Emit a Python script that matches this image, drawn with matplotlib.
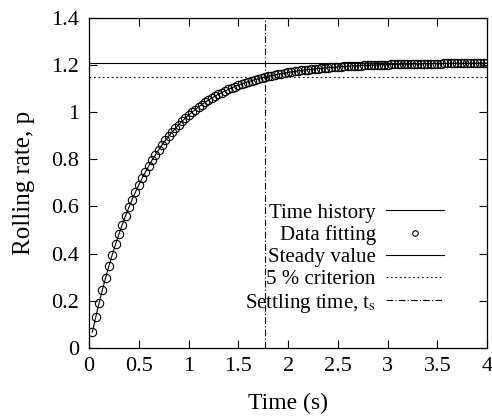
import matplotlib
matplotlib.use('Agg')
import matplotlib.pyplot as plt
import numpy as np

plt.rcParams['font.family'] = 'Liberation Serif'
plt.rcParams['mathtext.fontset'] = 'stix'

# sampled at 30 Hz, t = k/30 s for k = 1..120
time = np.round(np.arange(1, 121) / 30.0, 4)
rate = [
    0.0665, 0.1293, 0.1886, 0.2447, 0.2978, 0.3479, 0.3952, 0.4400, 0.4823, 0.5223,
    0.5600, 0.5958, 0.6295, 0.6614, 0.6915, 0.7200, 0.7469, 0.7723, 0.7964, 0.8191,
    0.8406, 0.8609, 0.8801, 0.8982, 0.9153, 0.9315, 0.9468, 0.9613, 0.9749, 0.9878,
    1.0000, 1.0116, 1.0225, 1.0328, 1.0425, 1.0517, 1.0604, 1.0686, 1.0764, 1.0837,
    1.0907, 1.0972, 1.1034, 1.1093, 1.1148, 1.1200, 1.1250, 1.1296, 1.1341, 1.1382,
    1.1422, 1.1459, 1.1494, 1.1528, 1.1559, 1.1589, 1.1617, 1.1643, 1.1668, 1.1692,
    1.1714, 1.1736, 1.1756, 1.1775, 1.1793, 1.1809, 1.1825, 1.1840, 1.1855, 1.1868,
    1.1881, 1.1893, 1.1904, 1.1915, 1.1925, 1.1935, 1.1944, 1.1952, 1.1961, 1.1968,
    1.1975, 1.1982, 1.1989, 1.1995, 1.2001, 1.2006, 1.2011, 1.2016, 1.2021, 1.2025,
    1.2029, 1.2033, 1.2037, 1.2040, 1.2043, 1.2047, 1.2050, 1.2052, 1.2055, 1.2057,
    1.2060, 1.2062, 1.2064, 1.2066, 1.2068, 1.2070, 1.2071, 1.2073, 1.2074, 1.2076,
    1.2077, 1.2078, 1.2080, 1.2081, 1.2082, 1.2083, 1.2084, 1.2085, 1.2085, 1.2086,
]
steady_value = 1.21
criterion = 1.15
settling_time = 1.77

xticks = [0, 0.5, 1, 1.5, 2, 2.5, 3, 3.5, 4]
xticklabels = ['0', '0.5', '1', '1.5', '2', '2.5', '3', '3.5', '4']
yticks = [0, 0.2, 0.4, 0.6, 0.8, 1, 1.2, 1.4]
yticklabels = ['0', '0.2', '0.4', '0.6', '0.8', '1', '1.2', '1.4']

fig = plt.figure(figsize=(4.92, 4.2), dpi=100)
ax = fig.add_axes([0.181, 0.172, 0.809, 0.785])

ax.plot(time, rate, color='k', lw=0.8, label='Time history')
ax.plot(time, rate, ls='none', marker='o', ms=6, mfc='none', mec='k', mew=0.8,
        label='Data fitting')
ax.axhline(steady_value, color='k', lw=0.8, label='Steady value')
ax.axhline(criterion, color='k', lw=0.8, ls=(0, (1.5, 2.5)), label='5 % criterion')
ax.axvline(settling_time, color='k', lw=0.8, ls=(0, (6, 2, 1, 2)),
           label='Settling time, t$_\\mathrm{s}$')

ax.set_xlim(0, 4)
ax.set_ylim(0, 1.4)
ax.set_xticks(xticks)
ax.set_xticklabels(xticklabels)
ax.set_yticks(yticks)
ax.set_yticklabels(yticklabels)
ax.tick_params(direction='in', top=True, right=True, length=6, width=0.8,
               labelsize=16, pad=7)
for s in ax.spines.values():
    s.set_linewidth(0.9)

ax.set_xlabel('Time (s)', fontsize=17, labelpad=12)
ax.set_ylabel('Rolling rate, p', fontsize=18, labelpad=12)

leg = ax.legend(loc='lower right', bbox_to_anchor=(0.893, 0.10), frameon=False,
                markerfirst=False, fontsize=15, handlelength=2.8, handletextpad=0.5,
                labelspacing=0.12, borderpad=0, borderaxespad=0, numpoints=1)
leg.legend_handles[1].set_markersize(4)

fig.savefig('out.png', dpi=100)
